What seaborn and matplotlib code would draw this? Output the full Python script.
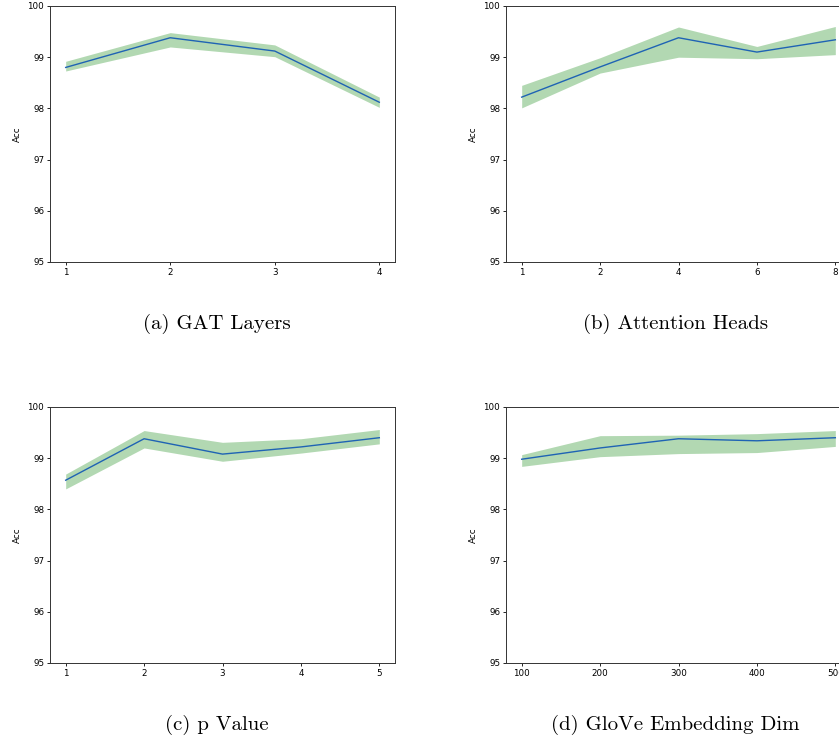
import numpy as np
import matplotlib
matplotlib.use("Agg")
import matplotlib.pyplot as plt
import seaborn as sns

# (a) GAT layers
layers = [1, 2, 3, 4]
layers_acc = [98.80, 99.38, 99.12, 98.12]
layers_lo = [98.73, 99.20, 99.01, 98.02]
layers_hi = [98.92, 99.48, 99.24, 98.22]

# (b) attention heads (evenly spaced ticks)
heads = ['1', '2', '4', '6', '8']
heads_acc = [98.22, 98.81, 99.38, 99.10, 99.34]
heads_lo = [98.01, 98.69, 99.00, 98.97, 99.05]
heads_hi = [98.45, 98.99, 99.59, 99.21, 99.60]

# (c) p value
pvals = [1, 2, 3, 4, 5]
p_acc = [98.57, 99.38, 99.08, 99.22, 99.40]
p_lo = [98.40, 99.20, 98.94, 99.10, 99.28]
p_hi = [98.69, 99.54, 99.31, 99.38, 99.56]

# (d) glove dim
dims = [100, 200, 300, 400, 500]
dim_acc = [98.98, 99.20, 99.38, 99.34, 99.40]
dim_lo = [98.84, 99.03, 99.09, 99.11, 99.23]
dim_hi = [99.07, 99.44, 99.45, 99.48, 99.54]

captions = ['(a) GAT Layers', '(b) Attention Heads', '(c) p Value', '(d) GloVe Embedding Dim']

plt.rcParams.update({
    'font.size': 6.3,
    'axes.linewidth': 0.7,
    'axes.edgecolor': '#333333',
    'xtick.major.size': 2.2,
    'ytick.major.size': 2.2,
    'xtick.major.width': 0.6,
    'ytick.major.width': 0.6,
    'xtick.major.pad': 2.0,
    'ytick.major.pad': 2.0,
    'axes.labelpad': 4.0,
})

fig = plt.figure(figsize=(8.39, 7.40), dpi=100)
W, H = 839, 740

def add_ax(x0, ytop):
    return fig.add_axes([x0 / W, (H - ytop - 256) / H, 345 / W, 256 / H])

ax_a = add_ax(50, 6)
ax_b = add_ax(506, 6)
ax_c = add_ax(50, 407)
ax_d = add_ax(506, 407)

line_col = '#1f63b4'
band_col = 'green'

def draw(ax, x, acc, lo, hi):
    ax.fill_between(x, lo, hi, color=band_col, alpha=0.3, linewidth=0)
    sns.lineplot(x=x, y=acc, ax=ax, color=line_col, linewidth=1.0)
    ax.set_ylim(95, 100)
    ax.set_ylabel('Acc')
    ax.set_xlabel('')

draw(ax_a, layers, layers_acc, layers_lo, layers_hi)
ax_a.set_xticks(layers)

pos = np.arange(len(heads))
draw(ax_b, pos, heads_acc, heads_lo, heads_hi)
ax_b.set_xticks(pos, heads)

draw(ax_c, pvals, p_acc, p_lo, p_hi)
ax_c.set_xticks(pvals)

draw(ax_d, dims, dim_acc, dim_lo, dim_hi)
ax_d.set_xticks(dims)

cap_font = dict(family='cmr10', size=15, ha='center', va='center')
fig.text(216.5 / W, 1 - 324 / H, captions[0], **cap_font)
fig.text(675.7 / W, 1 - 324 / H, captions[1], **cap_font)
fig.text(216.5 / W, 1 - 725 / H, captions[2], **cap_font)
fig.text(675.7 / W, 1 - 725 / H, captions[3], **cap_font)

fig.savefig('out.png', dpi=100)
